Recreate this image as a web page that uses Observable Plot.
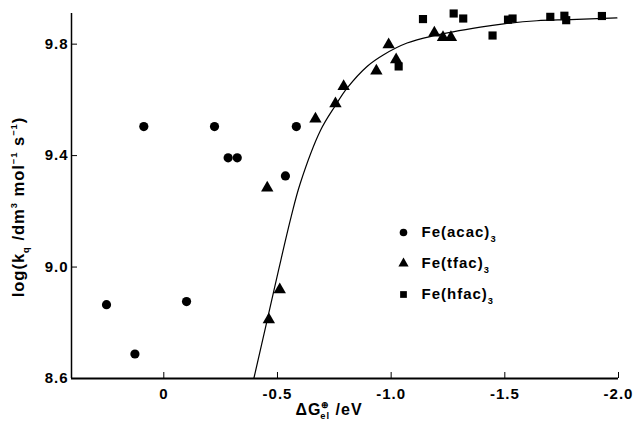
<!DOCTYPE html>
<html><head><meta charset="utf-8">
<script src="https://cdn.jsdelivr.net/npm/d3@7"></script>
<script src="https://cdn.jsdelivr.net/npm/@observablehq/plot@0.6"></script>
<style>body{margin:0;background:#fff} svg{display:block}</style>
</head><body><div id="chart"></div>
<script>
// Data
const seriesNames = ["Fe(acac)3", "Fe(tfac)3", "Fe(hfac)3"];
const seriesSymbols = ["circle", "triangle", "square"];
const acacX = [0.252, 0.127, 0.088, -0.100, -0.223, -0.283, -0.323, -0.535, -0.583];
const acacY = [8.865, 8.688, 9.504, 8.876, 9.504, 9.392, 9.392, 9.327, 9.504];
const tfacX = [-0.462, -0.510, -0.455, -0.667, -0.755, -0.791, -0.935, -0.989, -1.022, -1.190, -1.228, -1.263];
const tfacY = [8.811, 8.919, 9.284, 9.532, 9.586, 9.648, 9.704, 9.798, 9.744, 9.840, 9.824, 9.824];
const hfacX = [-1.033, -1.140, -1.275, -1.317, -1.446, -1.514, -1.534, -1.700, -1.762, -1.770, -1.927];
const hfacY = [9.720, 9.890, 9.910, 9.892, 9.831, 9.888, 9.892, 9.898, 9.902, 9.886, 9.901];
const fitX = [-0.396, -0.455, -0.505, -0.560, -0.600, -0.689, -0.755, -0.806, -0.894, -0.967, -1.070, -1.187, -1.392, -1.495, -1.641, -1.788, -1.993];
const fitY = [8.600, 8.810, 8.990, 9.180, 9.300, 9.490, 9.580, 9.642, 9.720, 9.762, 9.804, 9.830, 9.861, 9.873, 9.884, 9.888, 9.894];
const xTicks = [0, -0.5, -1.0, -1.5, -2.0];
const xTickLabels = ["0", "-0.5", "-1.0", "-1.5", "-2.0"];
const yTicks = [8.6, 9.0, 9.4, 9.8];
const yTickLabels = ["8.6", "9.0", "9.4", "9.8"];
const xDomain = [0.406, -2.0];
const yDomain = [8.6, 9.91];
const yLabel = "log(kq /dm3 mol-1 s-1)";
const xLabel = "ΔGel /eV";

const points = [
  ...acacX.map((x, i) => ({x, y: acacY[i], s: seriesNames[0]})),
  ...tfacX.map((x, i) => ({x, y: tfacY[i], s: seriesNames[1]})),
  ...hfacX.map((x, i) => ({x, y: hfacY[i], s: seriesNames[2]}))
];
const fit = fitX.map((x, i) => ({x, y: fitY[i]}));

const legendMarks = seriesNames.flatMap((name, i) => [
  Plot.dot([name], {frameAnchor: "top-left", dx: 332, dy: 219 + i * 31, symbol: d => d, fill: "black", r: 3.8}),
  Plot.text([name], {frameAnchor: "top-left", dx: 350, dy: 219 + i * 31, text: d => d, textAnchor: "start", lineAnchor: "middle", fontSize: 15, style: "letter-spacing:2px"})
]);

const plot = Plot.plot({
  width: 633, height: 424,
  marginLeft: 71, marginRight: 15, marginTop: 13, marginBottom: 46,
  style: {fontFamily: "'Liberation Sans', Arial, sans-serif", fontSize: "15px", fontWeight: "bold", letterSpacing: "1px", color: "black", background: "white"},
  x: {domain: xDomain, ticks: xTicks, tickFormat: (d) => xTickLabels[xTicks.indexOf(d)], tickSize: -6, tickPadding: 16, label: null},
  y: {domain: yDomain, ticks: yTicks, tickFormat: (d) => yTickLabels[yTicks.indexOf(d)], tickSize: -6, tickPadding: 9, label: null},
  symbol: {domain: seriesNames, range: seriesSymbols},
  marks: [
    Plot.ruleY([yDomain[0]], {stroke: "black", strokeWidth: 2}),
    Plot.ruleX([xDomain[0]], {stroke: "black", strokeWidth: 1.5}),
    Plot.line(fit, {x: "x", y: "y", curve: "catmull-rom", stroke: "black", strokeWidth: 1.2}),
    Plot.dot(points, {x: "x", y: "y", symbol: "s", fill: "black", r: 4.6}),
    ...legendMarks,
    Plot.text([yLabel], {frameAnchor: "left", dx: -53, dy: 11, rotate: -90, text: d => d, textAnchor: "middle", lineAnchor: "middle", fontSize: 16.5}),
    Plot.text([xLabel], {frameAnchor: "bottom", dx: -16, dy: 31, text: d => d, textAnchor: "middle", lineAnchor: "middle", fontSize: 16})
  ]
});
document.getElementById("chart").appendChild(plot);

// Rich text (subscripts / superscripts)
const NS = "http://www.w3.org/2000/svg";
function rich(node, parts, size) {
  node.textContent = "";
  let shift = 0;
  let prevSup = null;
  for (const [s, k, back] of parts) {
    const t = document.createElementNS(NS, "tspan");
    const target = k === "sub" ? 0.32 : k === "sup" ? -0.42 : 0;
    t.setAttribute("dy", ((target - shift) * size).toFixed(2));
    if (k) t.setAttribute("font-size", (size * 0.62).toFixed(1));
    if (back && prevSup) t.setAttribute("dx", (-prevSup.getComputedTextLength() - 1).toFixed(2));
    shift = target;
    t.textContent = s;
    node.appendChild(t);
    if (k === "sup") prevSup = t;
  }
}
const richMap = {
  "Fe(acac)3": [["Fe(acac)"], ["3", "sub"]],
  "Fe(tfac)3": [["Fe(tfac)"], ["3", "sub"]],
  "Fe(hfac)3": [["Fe(hfac)"], ["3", "sub"]],
  [yLabel]: [["log(k"], ["q", "sub"], [" /dm"], ["3", "sup"], [" mol"], ["−1", "sup"], [" s"], ["−1", "sup"], [")"]],
  [xLabel]: [["ΔG"], ["⊕", "sup"], ["el", "sub", true], [" /eV"]]
};
d3.select(plot).selectAll("text").each(function() {
  const c = this.textContent;
  if (richMap[c]) {
    const fs = parseFloat(this.getAttribute("font-size")) || 15;
    rich(this, richMap[c], fs);
  }
});
</script>
</body></html>
